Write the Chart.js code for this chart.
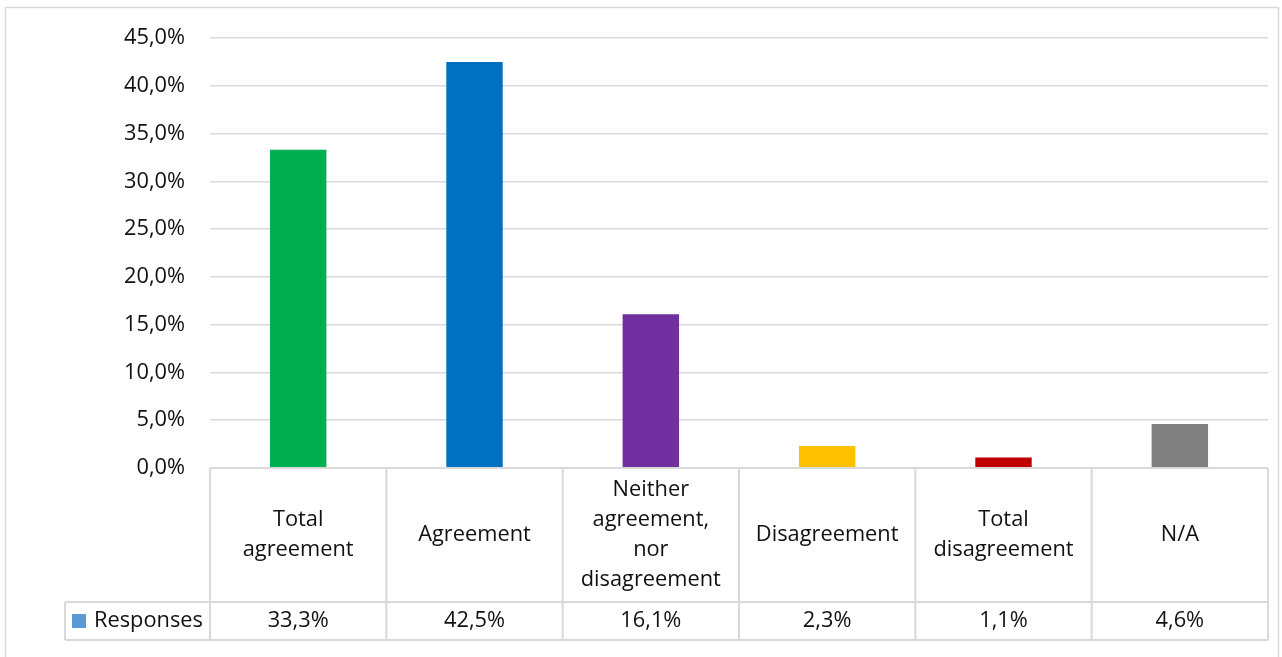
<!DOCTYPE html>
<html>
<head>
<meta charset="utf-8">
<script src="https://cdn.jsdelivr.net/npm/chart.js@4/dist/chart.umd.min.js"></script>
<style>
  html, body { margin: 0; padding: 0; background: #fff; }
  #wrap { position: relative; width: 1282px; height: 657px; }
</style>
</head>
<body>
<div id="wrap"><canvas id="c" width="1282" height="657"></canvas></div>
<script>
// Survey responses, one bar per answer, with an Excel-style data table below.
const CATEGORIES = [
  ["Total", "agreement"],
  ["Agreement"],
  ["Neither", "agreement,", "nor", "disagreement"],
  ["Disagreement"],
  ["Total", "disagreement"],
  ["N/A"],
];
const RESPONSES = [33.3, 42.5, 16.1, 2.3, 1.1, 4.6];
const BAR_COLORS = ["#00B050", "#0070C0", "#7030A0", "#FFC000", "#C00000", "#808080"];
const SERIES_NAME = "Responses";
const SERIES_SWATCH = "#5B9BD5";

const FONT = "'Open Sans', sans-serif";
const FONT_SIZE = 21.8;
const TEXT = "#111";
const LINE = "#d9d9d9";

const pct = (v) => v.toFixed(1).replace(".", ",") + "%";

// Draws the frame, the category row and the values row under the plot.
const dataTable = {
  id: "dataTable",
  beforeDraw(chart) {
    const { ctx } = chart;
    ctx.save();
    ctx.strokeStyle = LINE;
    ctx.lineWidth = 1.5;
    ctx.strokeRect(5.5, 7.5, 1273, 660);
    ctx.restore();
  },
  afterDraw(chart) {
    const { ctx, chartArea } = chart;
    const x = chart.scales.x;
    const n = CATEGORIES.length;
    const step = (chartArea.right - chartArea.left) / n;
    const top = chartArea.bottom;
    const rowTop = 602;
    const bottom = 640;
    const legendLeft = 65;

    ctx.save();
    ctx.strokeStyle = LINE;
    ctx.lineWidth = 2;
    ctx.beginPath();
    // horizontals
    ctx.moveTo(chartArea.left, top); ctx.lineTo(chartArea.right, top);
    ctx.moveTo(legendLeft, rowTop); ctx.lineTo(chartArea.right, rowTop);
    ctx.moveTo(legendLeft, bottom); ctx.lineTo(chartArea.right, bottom);
    // verticals
    for (let i = 0; i <= n; i++) {
      const px = chartArea.left + step * i;
      ctx.moveTo(px, top); ctx.lineTo(px, bottom);
    }
    ctx.moveTo(legendLeft, rowTop); ctx.lineTo(legendLeft, bottom);
    ctx.stroke();

    ctx.fillStyle = TEXT;
    ctx.font = `${FONT_SIZE}px ${FONT}`;
    ctx.textAlign = "center";
    ctx.textBaseline = "middle";
    const lh = 30;
    const midCat = (top + rowTop) / 2;
    const midVal = (rowTop + bottom) / 2;
    CATEGORIES.forEach((lines, i) => {
      const cx = x.getPixelForValue(i);
      const y0 = midCat - ((lines.length - 1) * lh) / 2;
      lines.forEach((t, j) => ctx.fillText(t, cx, y0 + j * lh));
      ctx.fillText(pct(RESPONSES[i]), cx, midVal);
    });

    // legend key cell
    ctx.fillStyle = SERIES_SWATCH;
    ctx.fillRect(72, midVal - 7, 14, 14);
    ctx.fillStyle = TEXT;
    ctx.textAlign = "left";
    ctx.fillText(SERIES_NAME, 94, midVal);
    ctx.restore();
  },
};

new Chart(document.getElementById("c"), {
  type: "bar",
  data: {
    labels: CATEGORIES.map((l) => l.join(" ")),
    datasets: [{
      label: SERIES_NAME,
      data: RESPONSES,
      backgroundColor: BAR_COLORS,
      borderWidth: 0,
      categoryPercentage: 1,
      barPercentage: 0.32,
    }],
  },
  options: {
    responsive: false,
    animation: false,
    layout: { padding: { top: 38, right: 14, bottom: 189, left: 0 } },
    plugins: { legend: { display: false }, tooltip: { enabled: false } },
    scales: {
      x: { display: false },
      y: {
        min: 0,
        max: 45,
        border: { display: false },
        grid: { color: LINE, lineWidth: 1.5, drawTicks: false },
        ticks: {
          stepSize: 5,
          padding: 25,
          color: TEXT,
          font: { family: FONT, size: FONT_SIZE },
          callback: (v) => pct(v),
        },
        afterFit: (scale) => { scale.width = 210; },
      },
    },
  },
  plugins: [dataTable],
});
</script>
</body>
</html>
